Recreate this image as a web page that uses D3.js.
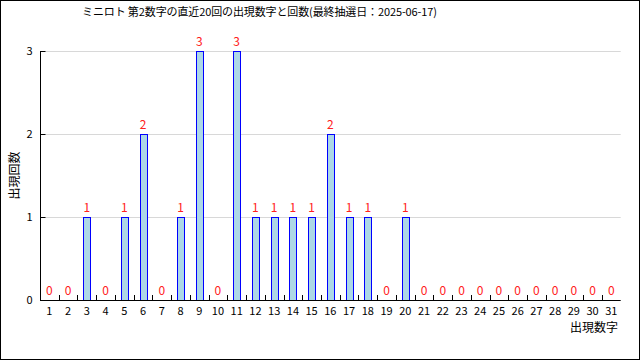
<!DOCTYPE html>
<html><head><meta charset="utf-8">
<script src="https://cdn.jsdelivr.net/npm/d3@7"></script>
<style>
html,body{margin:0;padding:0;background:#fff;}
text{font-family:"Noto Sans CJK JP","DejaVu Sans",sans-serif;}
</style></head>
<body>
<svg id="c" width="640" height="360"></svg>
<script>
const titleText = "ミニロト 第2数字の直近20回の出現数字と回数(最終抽選日：2025-06-17)";
const categories = d3.range(1, 32).map(String);
const counts = [0,0,1,0,1,2,0,1,3,0,3,1,1,1,1,2,1,1,0,1,0,0,0,0,0,0,0,0,0,0,0];
const yTicks = [0,1,2,3];
const xTitle = "出現数字";
const yTitle = "出現回数";

(function(){
const svg = d3.select("#c");
svg.append("rect").attr("x",0.5).attr("y",0.5).attr("width",639).attr("height",359)
  .attr("fill","#fff").attr("stroke","#000");

const mL = 40, mR = 620.7, mT = 51, mB = 300;
const x = d3.scaleBand().domain(categories).range([mL, mR]).padding(0);
const y = d3.scaleLinear().domain([0,3]).range([mB, mT]);

svg.append("g").selectAll("line").data(yTicks.filter(d=>d>0)).join("line")
  .attr("x1", mL).attr("x2", mR)
  .attr("y1", d=>y(d)+0.5).attr("y2", d=>y(d)+0.5)
  .attr("stroke","#d8d8d8");

const bw = 7;
svg.append("g").selectAll("rect").data(categories.map((c,i)=>({c, v:counts[i]})).filter(d=>d.v>0)).join("rect")
  .attr("x", d=>Math.round(x(d.c)+x.bandwidth()/2-bw/2)+0.5)
  .attr("y", d=>Math.round(y(d.v))+0.5)
  .attr("width", bw)
  .attr("height", d=>Math.round(y(0))-Math.round(y(d.v)))
  .attr("fill","#add8e6").attr("stroke","#0000ff");

svg.append("g").selectAll("text").data(categories.map((c,i)=>({c, v:counts[i]}))).join("text")
  .attr("x", d=>x(d.c)+x.bandwidth()/2)
  .attr("y", d=>y(d.v)-5)
  .attr("text-anchor","middle")
  .attr("font-size", 12).attr("fill","#ff2020")
  .text(d=>d.v);

const xAxis = d3.axisBottom(x).tickSize(0).tickPadding(7);
const gx = svg.append("g").attr("transform",`translate(0,${mB+0.5})`).call(xAxis);
gx.select(".domain").attr("stroke","#000").attr("d", `M${mL},0H${mR}`);
gx.selectAll("text").attr("font-size",11).attr("fill","#000").attr("font-family","\"Noto Sans CJK JP\",sans-serif");
svg.append("g").selectAll("line").data(categories.slice(1)).join("line")
  .attr("x1", d=>Math.round(x(d))+0.5).attr("x2", d=>Math.round(x(d))+0.5)
  .attr("y1", mB).attr("y2", mB-5).attr("stroke","#000");

const yAxis = d3.axisLeft(y).tickValues(yTicks).tickFormat(d3.format("d")).tickSize(-5).tickPadding(8);
const gy = svg.append("g").attr("transform",`translate(${mL+0.5},0)`).call(yAxis);
gy.select(".domain").attr("stroke","#000").attr("d", `M0,${y(3)}V${mB}`);
gy.selectAll(".tick line").attr("stroke","#000");
gy.selectAll("text").attr("font-size",11).attr("fill","#000").attr("font-family","\"Noto Sans CJK JP\",sans-serif");

svg.append("text").attr("x",82).attr("y",16).attr("text-anchor","start")
  .attr("font-size",11).attr("fill","#000").attr("textLength",355).attr("lengthAdjust","spacing").text(titleText);
svg.append("text").attr("x",618).attr("y",332).attr("text-anchor","end")
  .attr("font-size",12).attr("fill","#000").text(xTitle);
svg.append("text").attr("transform",`translate(19,${(mT+mB)/2}) rotate(-90)`)
  .attr("text-anchor","middle").attr("font-size",12).attr("fill","#000").text(yTitle);
})();
</script>
</body></html>
